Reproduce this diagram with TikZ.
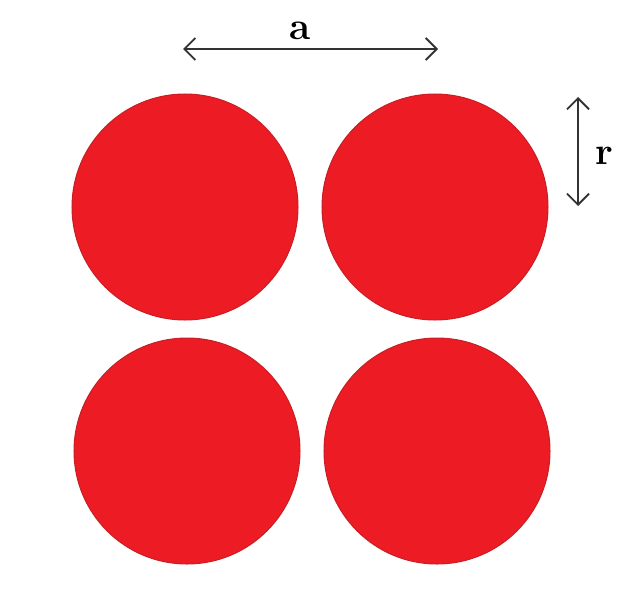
\documentclass[tikz,border=0pt]{standalone}
\usepackage{tikz}
\usetikzlibrary{arrows.meta}

\definecolor{ballred}{RGB}{237,28,36}
\definecolor{ballrim}{RGB}{200,30,36}

\begin{document}
\begin{tikzpicture}[x=0.02cm,y=-0.02cm,
    ball/.style={circle,fill=ballred,draw=ballrim,line width=0.6pt,minimum size=4.52cm,inner sep=0pt},
    dim/.style={{Straight Barb[length=2.2mm,width=4.4mm]}-{Straight Barb[length=2.2mm,width=4.4mm]},gray!40!black,line width=1.1pt},
    lbl/.style={font=\fontsize{22}{26}\selectfont\bfseries}]
  \useasboundingbox (0,0) rectangle (632,592);
  % the four spheres
  \node[ball] (tl) at (185,207) {};
  \node[ball] (tr) at (435,207) {};
  \node[ball] (bl) at (187,451) {};
  \node[ball] (br) at (437,451) {};
  % lattice constant
  \coordinate (aL) at (183,49);
  \coordinate (aR) at (438,49);
  \draw[dim] (aL) -- (aR);
  \node[lbl] (alab) at (300,31) {a};
  % radius
  \coordinate (rT) at (578,97);
  \coordinate (rB) at (578,206);
  \draw[dim] (rT) -- (rB);
  \node[lbl] (rlab) at (604,156) {r};
\end{tikzpicture}
\end{document}
